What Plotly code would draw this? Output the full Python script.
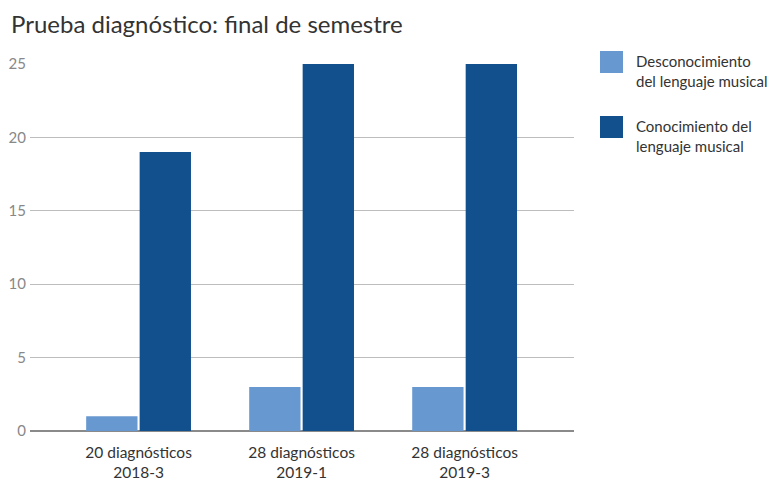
import plotly.graph_objects as go

categories = ["20 diagnósticos<br>2018-3", "28 diagnósticos<br>2019-1", "28 diagnósticos<br>2019-3"]
series_names = ["Desconocimiento<br>del lenguaje musical", "Conocimiento del<br>lenguaje musical"]
desconocimiento = [1, 3, 3]
conocimiento = [19, 25, 25]
colors = ["#6898D0", "#11508D"]
y_ticks = [0, 5, 10, 15, 20, 25]
title_text = "Prueba diagnóstico: final de semestre"

FONT = "Lato, 'Open Sans', sans-serif"

# plot area in window pixels: x 30..574, y 64..431 (page body has 8px offset)
PX0, PX1, PY0, PY1 = 30, 574, 64, 431
PW, PH = PX1 - PX0, PY1 - PY0


def px(x):
    return (x - PX0) / PW


def py(y):
    return 1 - (y - PY0) / PH


fig = go.Figure()
for name, vals, col in zip(series_names, [desconocimiento, conocimiento], colors):
    fig.add_trace(go.Bar(x=list(range(len(categories))), y=vals, name=name,
                         marker=dict(color=col, line=dict(width=0)), showlegend=False))

# manual legend (squares + text)
legend_y = [62, 127]
for i, (name, col) in enumerate(zip(series_names, colors)):
    yc = legend_y[i]
    fig.add_shape(type="rect", xref="paper", yref="paper",
                  x0=px(600), x1=px(623), y0=py(yc + 11), y1=py(yc - 11),
                  fillcolor=col, line=dict(width=0))
    fig.add_annotation(xref="paper", yref="paper", x=px(634), y=py(yc - 12),
                       xanchor="left", yanchor="top",
                       text=name, showarrow=False, align="left",
                       font=dict(family=FONT, size=15, color="#333333"))

# title as annotation
fig.add_annotation(xref="paper", yref="paper", x=px(9), y=py(24), xanchor="left",
                   yanchor="middle", text=title_text, showarrow=False,
                   font=dict(family=FONT, size=24, color="#333333"))

fig.update_layout(
    width=782, height=486,
    margin=dict(l=PX0 - 8, r=782 + 8 - PX1, t=PY0 - 8, b=486 + 8 - PY1, autoexpand=False),
    plot_bgcolor="white", paper_bgcolor="white",
    barmode="group", bargap=0.344, bargroupgap=0.04,
    showlegend=False,
    font=dict(family=FONT),
)
fig.update_xaxes(range=[-0.666, 2.671], tickmode="array", tickvals=list(range(len(categories))),
                 ticktext=categories, showgrid=False, showline=False, ticks="",
                 ticklabelstandoff=10, automargin=False,
                 tickfont=dict(family=FONT, size=15.5, color="#333333"), zeroline=False)
fig.update_yaxes(range=[0, 25], tickmode="array", tickvals=y_ticks, showgrid=True,
                 gridcolor="#BDBDBD", gridwidth=1, zeroline=True, zerolinecolor="#8A8A8A",
                 zerolinewidth=1.5, showline=False, ticks="", automargin=False,
                 ticklabelstandoff=3,
                 tickfont=dict(family=FONT, size=15, color="#888888"))

fig.write_html("out.html")
